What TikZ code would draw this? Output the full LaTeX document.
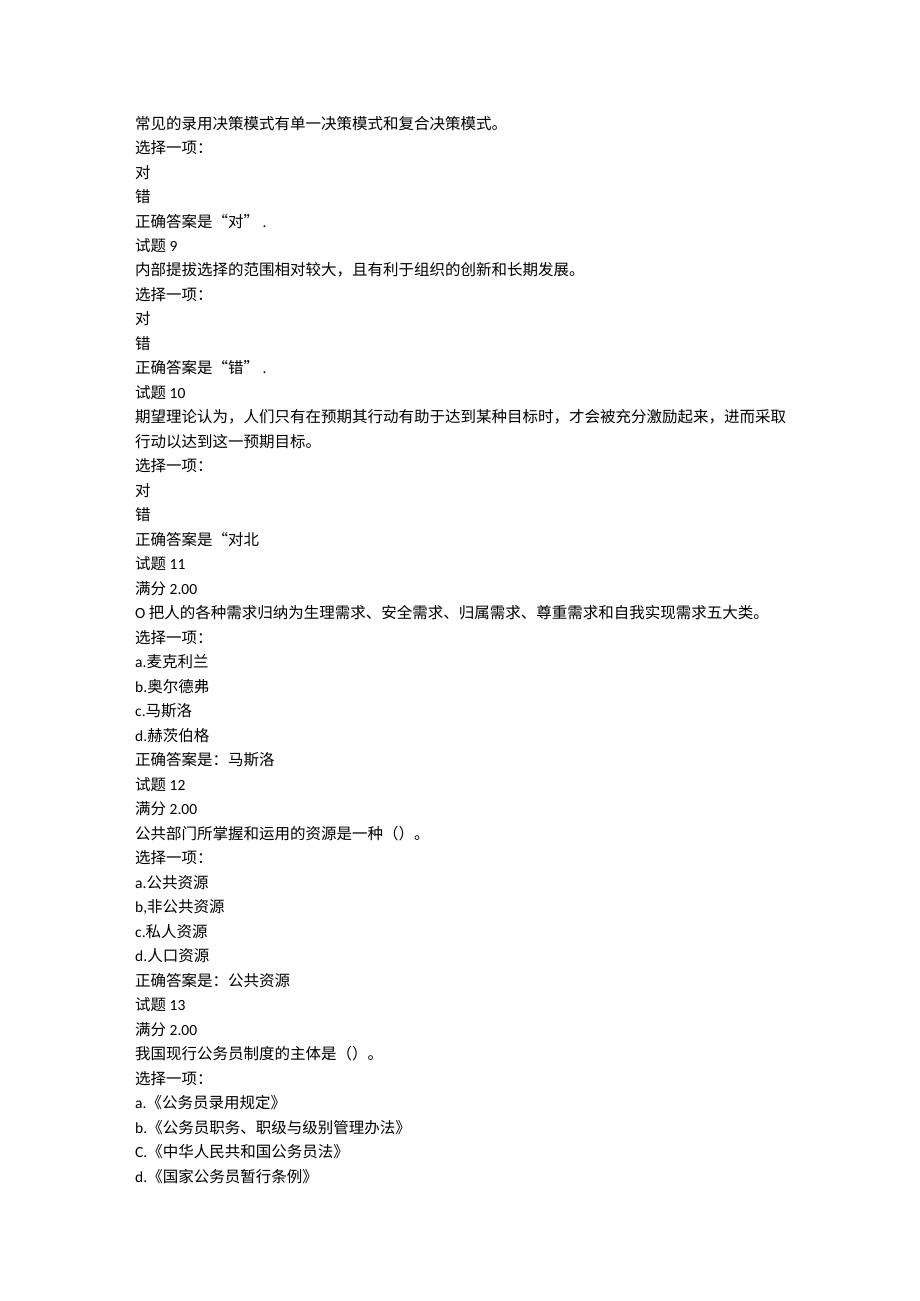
\documentclass[tikz,border=0pt]{standalone}
\usepackage{fontspec}
\setmainfont{Noto Sans CJK SC}
\newfontfamily\lat{Carlito}
\usepackage{tikz}

\tikzset{
  txt/.style={anchor=base west, inner sep=0pt, font=\fontsize{15.5}{15.5}\selectfont}
}

\begin{document}
\begin{tikzpicture}[x=1pt,y=-1pt]
        \useasboundingbox (0,0) rectangle (920,1301);
        \fill[white] (0,0) rectangle (920,1301);

        \node[txt] (l1) at (135,129) {常见的录用决策模式有单一决策模式和复合决策模式。};
        \node[txt] (l2) at (135,153.5) {选择一项：};
        \node[txt] (l3) at (135,178) {对};
        \node[txt] (l4) at (135,202.5) {错};
        \node[txt] (l5) at (135,227) {正确答案是“对”{\lat\ .}};
        \node[txt] (l6) at (135,251.4) {试题 {\lat 9}};
        \node[txt] (l7) at (135,275.9) {内部提拔选择的范围相对较大，且有利于组织的创新和长期发展。};
        \node[txt] (l8) at (135,300.4) {选择一项：};
        \node[txt] (l9) at (135,324.9) {对};
        \node[txt] (l10) at (135,349.4) {错};
        \node[txt] (l11) at (135,373.9) {正确答案是“错”{\lat\ .}};
        \node[txt] (l12) at (135,398.4) {试题 {\lat 10}};
        \node[txt] (l13) at (135,422.9) {期望理论认为，人们只有在预期其行动有助于达到某种目标时，才会被充分激励起来，进而采取};
        \node[txt] (l14) at (135,447.4) {行动以达到这一预期目标。};
        \node[txt] (l15) at (135,471.9) {选择一项：};
        \node[txt] (l16) at (135,496.4) {对};
        \node[txt] (l17) at (135,520.8) {错};
        \node[txt] (l18) at (135,545.3) {正确答案是“对北};
        \node[txt] (l19) at (135,569.8) {试题 {\lat 11}};
        \node[txt] (l20) at (135,594.3) {满分 {\lat 2.00}};
        \node[txt] (l21) at (135,618.8) {{\lat O} 把人的各种需求归纳为生理需求、安全需求、归属需求、尊重需求和自我实现需求五大类。};
        \node[txt] (l22) at (135,643.3) {选择一项：};
        \node[txt] (l23) at (135,667.8) {{\lat a.}麦克利兰};
        \node[txt] (l24) at (135,692.3) {{\lat b.}奥尔德弗};
        \node[txt] (l25) at (135,716.8) {{\lat c.}马斯洛};
        \node[txt] (l26) at (135,741.3) {{\lat d.}赫茨伯格};
        \node[txt] (l27) at (135,765.8) {正确答案是：马斯洛};
        \node[txt] (l28) at (135,790.2) {试题 {\lat 12}};
        \node[txt] (l29) at (135,814.7) {满分 {\lat 2.00}};
        \node[txt] (l30) at (135,839.2) {公共部门所掌握和运用的资源是一种（）。};
        \node[txt] (l31) at (135,863.7) {选择一项：};
        \node[txt] (l32) at (135,888.2) {{\lat a.}公共资源};
        \node[txt] (l33) at (135,912.7) {{\lat b,}非公共资源};
        \node[txt] (l34) at (135,937.2) {{\lat c.}私人资源};
        \node[txt] (l35) at (135,961.7) {{\lat d.}人口资源};
        \node[txt] (l36) at (135,986.2) {正确答案是：公共资源};
        \node[txt] (l37) at (135,1010.7) {试题 {\lat 13}};
        \node[txt] (l38) at (135,1035.2) {满分 {\lat 2.00}};
        \node[txt] (l39) at (135,1059.6) {我国现行公务员制度的主体是（）。};
        \node[txt] (l40) at (135,1084.1) {选择一项：};
        \node[txt] (l41) at (135,1108.6) {{\lat a.}《公务员录用规定》};
        \node[txt] (l42) at (135,1133.1) {{\lat b.}《公务员职务、职级与级别管理办法》};
        \node[txt] (l43) at (135,1157.6) {{\lat C.}《中华人民共和国公务员法》};
        \node[txt] (l44) at (135,1182.1) {{\lat d.}《国家公务员暂行条例》};
      \end{tikzpicture}
\end{document}
